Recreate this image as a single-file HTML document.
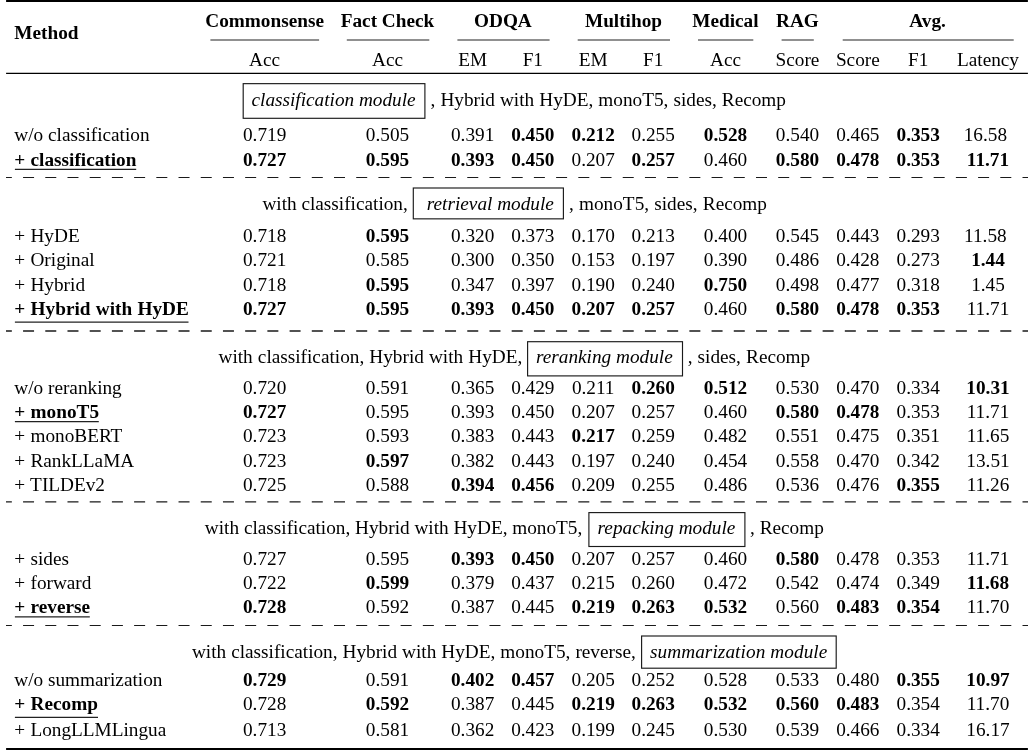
<!DOCTYPE html>
<html><head><meta charset="utf-8"><title>table</title>
<style>
html,body{margin:0;padding:0;background:#fff;}
body{width:1033px;height:750px;position:relative;overflow:hidden;font-family:"Liberation Serif",serif;font-size:19.25px;color:#000;}
.t{position:absolute;white-space:nowrap;line-height:21px;height:21px;}
.c{width:300px;text-align:center;}
.ra{width:600px;text-align:right;}
.b{font-weight:bold;}
.i{font-style:italic;}
svg{position:absolute;left:0;top:0;}
#w{position:absolute;left:0;top:0;width:1033px;height:750px;will-change:transform;}
</style></head><body><div id="w">
<svg width="1033" height="750" viewBox="0 0 1033 750"><defs><clipPath id="clipL"><rect x="6.1" y="0" width="1021.8000000000001" height="750"/></clipPath></defs>
<rect x="6.10" y="0.00" width="1021.80" height="2.00" fill="#000"/>
<rect x="6.10" y="748.00" width="1021.80" height="2.00" fill="#000"/>
<line x1="6.10" y1="73.45" x2="1027.90" y2="73.45" stroke="#000" stroke-width="1.2"/>
<line x1="210.40" y1="40.00" x2="319.10" y2="40.00" stroke="#222" stroke-width="1.2"/>
<line x1="346.80" y1="40.00" x2="429.30" y2="40.00" stroke="#222" stroke-width="1.2"/>
<line x1="457.40" y1="40.00" x2="549.60" y2="40.00" stroke="#222" stroke-width="1.2"/>
<line x1="577.70" y1="40.00" x2="670.00" y2="40.00" stroke="#222" stroke-width="1.2"/>
<line x1="698.00" y1="40.00" x2="753.30" y2="40.00" stroke="#222" stroke-width="1.2"/>
<line x1="781.60" y1="40.00" x2="813.80" y2="40.00" stroke="#222" stroke-width="1.2"/>
<line x1="842.70" y1="40.00" x2="1013.70" y2="40.00" stroke="#222" stroke-width="1.2"/>
<rect x="243.20" y="83.65" width="181.70" height="34.65" fill="none" stroke="#1a1a1a" stroke-width="1.15"/>
<line x1="14.90" y1="169.34" x2="136.20" y2="169.34" stroke="#222" stroke-width="1.2"/>
<line x1="0.85" y1="177.55" x2="1033" y2="177.55" stroke="#1a1a1a" stroke-width="1.1" stroke-dasharray="11.0 11.21" clip-path="url(#clipL)"/>
<rect x="413.30" y="188.00" width="150.10" height="30.85" fill="none" stroke="#1a1a1a" stroke-width="1.15"/>
<line x1="14.90" y1="322.20" x2="188.50" y2="322.20" stroke="#222" stroke-width="1.2"/>
<line x1="0.85" y1="331.00" x2="1033" y2="331.00" stroke="#1a1a1a" stroke-width="1.3" stroke-dasharray="11.0 11.21" clip-path="url(#clipL)"/>
<rect x="527.60" y="341.70" width="154.90" height="34.20" fill="none" stroke="#1a1a1a" stroke-width="1.15"/>
<line x1="14.90" y1="421.56" x2="98.80" y2="421.56" stroke="#222" stroke-width="1.2"/>
<line x1="0.85" y1="501.85" x2="1033" y2="501.85" stroke="#1a1a1a" stroke-width="1.2" stroke-dasharray="11.0 11.21" clip-path="url(#clipL)"/>
<rect x="588.90" y="512.60" width="156.00" height="33.90" fill="none" stroke="#1a1a1a" stroke-width="1.15"/>
<line x1="14.90" y1="616.94" x2="89.80" y2="616.94" stroke="#222" stroke-width="1.2"/>
<line x1="0.85" y1="625.47" x2="1033" y2="625.47" stroke="#1a1a1a" stroke-width="1.1" stroke-dasharray="11.0 11.21" clip-path="url(#clipL)"/>
<rect x="641.60" y="636.00" width="194.60" height="32.20" fill="none" stroke="#1a1a1a" stroke-width="1.15"/>
<line x1="14.90" y1="717.38" x2="98.00" y2="717.38" stroke="#222" stroke-width="1.2"/>
</svg>
<div class="t b" style="left:14.30px;top:22px">Method</div>
<div class="t c b" style="left:114.60px;top:10px">Commonsense</div>
<div class="t c b" style="left:237.50px;top:10px">Fact Check</div>
<div class="t c b" style="left:352.90px;top:10px">ODQA</div>
<div class="t c b" style="left:473.50px;top:10px">Multihop</div>
<div class="t c b" style="left:575.40px;top:10px">Medical</div>
<div class="t c b" style="left:647.40px;top:10px">RAG</div>
<div class="t c b" style="left:777.60px;top:10px">Avg.</div>
<div class="t c " style="left:114.60px;top:49px">Acc</div>
<div class="t c " style="left:237.50px;top:49px">Acc</div>
<div class="t c " style="left:322.60px;top:49px">EM</div>
<div class="t c " style="left:382.80px;top:49px">F1</div>
<div class="t c " style="left:443.20px;top:49px">EM</div>
<div class="t c " style="left:503.20px;top:49px">F1</div>
<div class="t c " style="left:575.50px;top:49px">Acc</div>
<div class="t c " style="left:647.50px;top:49px">Score</div>
<div class="t c " style="left:707.80px;top:49px">Score</div>
<div class="t c " style="left:768.20px;top:49px">F1</div>
<div class="t c " style="left:838.00px;top:49px">Latency</div>
<div class="t i" style="left:251.50px;top:89px">classification module</div>
<div class="t " style="left:430.50px;top:89px"><span style="word-spacing:0.25px">, Hybrid with HyDE, monoT5, sides, Recomp</span></div>
<div class="t " style="left:14.30px;top:124px">w/o classification</div>
<div class="t c " style="left:114.60px;top:124px">0.719</div>
<div class="t c " style="left:237.50px;top:124px">0.505</div>
<div class="t c " style="left:322.60px;top:124px">0.391</div>
<div class="t c b" style="left:382.80px;top:124px">0.450</div>
<div class="t c b" style="left:443.20px;top:124px">0.212</div>
<div class="t c " style="left:503.20px;top:124px">0.255</div>
<div class="t c b" style="left:575.50px;top:124px">0.528</div>
<div class="t c " style="left:647.50px;top:124px">0.540</div>
<div class="t c " style="left:707.80px;top:124px">0.465</div>
<div class="t c b" style="left:768.20px;top:124px">0.353</div>
<div class="t c " style="left:835.40px;top:124px">16.58</div>
<div class="t b" style="left:14.30px;top:149px"><span style="word-spacing:0.5px">+ classification</span></div>
<div class="t c b" style="left:114.60px;top:149px">0.727</div>
<div class="t c b" style="left:237.50px;top:149px">0.595</div>
<div class="t c b" style="left:322.60px;top:149px">0.393</div>
<div class="t c b" style="left:382.80px;top:149px">0.450</div>
<div class="t c " style="left:443.20px;top:149px">0.207</div>
<div class="t c b" style="left:503.20px;top:149px">0.257</div>
<div class="t c " style="left:575.50px;top:149px">0.460</div>
<div class="t c b" style="left:647.50px;top:149px">0.580</div>
<div class="t c b" style="left:707.80px;top:149px">0.478</div>
<div class="t c b" style="left:768.20px;top:149px">0.353</div>
<div class="t c b" style="left:838.00px;top:149px">11.71</div>
<div class="t ra " style="left:-192.20px;top:193px">with classification,</div>
<div class="t i" style="left:426.80px;top:193px">retrieval module</div>
<div class="t " style="left:569.00px;top:193px"><span style="word-spacing:0.4px">, monoT5, sides, Recomp</span></div>
<div class="t " style="left:14.30px;top:225px"><span style="word-spacing:0.5px">+ HyDE</span></div>
<div class="t c " style="left:114.60px;top:225px">0.718</div>
<div class="t c b" style="left:237.50px;top:225px">0.595</div>
<div class="t c " style="left:322.60px;top:225px">0.320</div>
<div class="t c " style="left:382.80px;top:225px">0.373</div>
<div class="t c " style="left:443.20px;top:225px">0.170</div>
<div class="t c " style="left:503.20px;top:225px">0.213</div>
<div class="t c " style="left:575.50px;top:225px">0.400</div>
<div class="t c " style="left:647.50px;top:225px">0.545</div>
<div class="t c " style="left:707.80px;top:225px">0.443</div>
<div class="t c " style="left:768.20px;top:225px">0.293</div>
<div class="t c " style="left:835.40px;top:225px">11.58</div>
<div class="t " style="left:14.30px;top:249px"><span style="word-spacing:0.5px">+ Original</span></div>
<div class="t c " style="left:114.60px;top:249px">0.721</div>
<div class="t c " style="left:237.50px;top:249px">0.585</div>
<div class="t c " style="left:322.60px;top:249px">0.300</div>
<div class="t c " style="left:382.80px;top:249px">0.350</div>
<div class="t c " style="left:443.20px;top:249px">0.153</div>
<div class="t c " style="left:503.20px;top:249px">0.197</div>
<div class="t c " style="left:575.50px;top:249px">0.390</div>
<div class="t c " style="left:647.50px;top:249px">0.486</div>
<div class="t c " style="left:707.80px;top:249px">0.428</div>
<div class="t c " style="left:768.20px;top:249px">0.273</div>
<div class="t c b" style="left:838.00px;top:249px">1.44</div>
<div class="t " style="left:14.30px;top:274px"><span style="word-spacing:0.5px">+ Hybrid</span></div>
<div class="t c " style="left:114.60px;top:274px">0.718</div>
<div class="t c b" style="left:237.50px;top:274px">0.595</div>
<div class="t c " style="left:322.60px;top:274px">0.347</div>
<div class="t c " style="left:382.80px;top:274px">0.397</div>
<div class="t c " style="left:443.20px;top:274px">0.190</div>
<div class="t c " style="left:503.20px;top:274px">0.240</div>
<div class="t c b" style="left:575.50px;top:274px">0.750</div>
<div class="t c " style="left:647.50px;top:274px">0.498</div>
<div class="t c " style="left:707.80px;top:274px">0.477</div>
<div class="t c " style="left:768.20px;top:274px">0.318</div>
<div class="t c " style="left:838.00px;top:274px">1.45</div>
<div class="t b" style="left:14.30px;top:298px"><span style="word-spacing:0.5px">+ Hybrid with HyDE</span></div>
<div class="t c b" style="left:114.60px;top:298px">0.727</div>
<div class="t c b" style="left:237.50px;top:298px">0.595</div>
<div class="t c b" style="left:322.60px;top:298px">0.393</div>
<div class="t c b" style="left:382.80px;top:298px">0.450</div>
<div class="t c b" style="left:443.20px;top:298px">0.207</div>
<div class="t c b" style="left:503.20px;top:298px">0.257</div>
<div class="t c " style="left:575.50px;top:298px">0.460</div>
<div class="t c b" style="left:647.50px;top:298px">0.580</div>
<div class="t c b" style="left:707.80px;top:298px">0.478</div>
<div class="t c b" style="left:768.20px;top:298px">0.353</div>
<div class="t c " style="left:838.00px;top:298px">11.71</div>
<div class="t ra " style="left:-77.70px;top:346px"><span style="word-spacing:0.3px">with classification, Hybrid with HyDE,</span></div>
<div class="t i" style="left:536.00px;top:346px">reranking module</div>
<div class="t " style="left:687.70px;top:346px"><span style="word-spacing:0.3px">, sides, Recomp</span></div>
<div class="t " style="left:14.30px;top:377px">w/o reranking</div>
<div class="t c " style="left:114.60px;top:377px">0.720</div>
<div class="t c " style="left:237.50px;top:377px">0.591</div>
<div class="t c " style="left:322.60px;top:377px">0.365</div>
<div class="t c " style="left:382.80px;top:377px">0.429</div>
<div class="t c " style="left:443.20px;top:377px">0.211</div>
<div class="t c b" style="left:503.20px;top:377px">0.260</div>
<div class="t c b" style="left:575.50px;top:377px">0.512</div>
<div class="t c " style="left:647.50px;top:377px">0.530</div>
<div class="t c " style="left:707.80px;top:377px">0.470</div>
<div class="t c " style="left:768.20px;top:377px">0.334</div>
<div class="t c b" style="left:838.00px;top:377px">10.31</div>
<div class="t b" style="left:14.30px;top:401px"><span style="word-spacing:0.5px">+ monoT5</span></div>
<div class="t c b" style="left:114.60px;top:401px">0.727</div>
<div class="t c " style="left:237.50px;top:401px">0.595</div>
<div class="t c " style="left:322.60px;top:401px">0.393</div>
<div class="t c " style="left:382.80px;top:401px">0.450</div>
<div class="t c " style="left:443.20px;top:401px">0.207</div>
<div class="t c " style="left:503.20px;top:401px">0.257</div>
<div class="t c " style="left:575.50px;top:401px">0.460</div>
<div class="t c b" style="left:647.50px;top:401px">0.580</div>
<div class="t c b" style="left:707.80px;top:401px">0.478</div>
<div class="t c " style="left:768.20px;top:401px">0.353</div>
<div class="t c " style="left:838.00px;top:401px">11.71</div>
<div class="t " style="left:14.30px;top:425px"><span style="word-spacing:0.5px">+ monoBERT</span></div>
<div class="t c " style="left:114.60px;top:425px">0.723</div>
<div class="t c " style="left:237.50px;top:425px">0.593</div>
<div class="t c " style="left:322.60px;top:425px">0.383</div>
<div class="t c " style="left:382.80px;top:425px">0.443</div>
<div class="t c b" style="left:443.20px;top:425px">0.217</div>
<div class="t c " style="left:503.20px;top:425px">0.259</div>
<div class="t c " style="left:575.50px;top:425px">0.482</div>
<div class="t c " style="left:647.50px;top:425px">0.551</div>
<div class="t c " style="left:707.80px;top:425px">0.475</div>
<div class="t c " style="left:768.20px;top:425px">0.351</div>
<div class="t c " style="left:838.00px;top:425px">11.65</div>
<div class="t " style="left:14.30px;top:450px"><span style="word-spacing:0.5px">+ RankLLaMA</span></div>
<div class="t c " style="left:114.60px;top:450px">0.723</div>
<div class="t c b" style="left:237.50px;top:450px">0.597</div>
<div class="t c " style="left:322.60px;top:450px">0.382</div>
<div class="t c " style="left:382.80px;top:450px">0.443</div>
<div class="t c " style="left:443.20px;top:450px">0.197</div>
<div class="t c " style="left:503.20px;top:450px">0.240</div>
<div class="t c " style="left:575.50px;top:450px">0.454</div>
<div class="t c " style="left:647.50px;top:450px">0.558</div>
<div class="t c " style="left:707.80px;top:450px">0.470</div>
<div class="t c " style="left:768.20px;top:450px">0.342</div>
<div class="t c " style="left:838.00px;top:450px">13.51</div>
<div class="t " style="left:14.30px;top:474px"><span style="word-spacing:0.5px">+ TILDEv2</span></div>
<div class="t c " style="left:114.60px;top:474px">0.725</div>
<div class="t c " style="left:237.50px;top:474px">0.588</div>
<div class="t c b" style="left:322.60px;top:474px">0.394</div>
<div class="t c b" style="left:382.80px;top:474px">0.456</div>
<div class="t c " style="left:443.20px;top:474px">0.209</div>
<div class="t c " style="left:503.20px;top:474px">0.255</div>
<div class="t c " style="left:575.50px;top:474px">0.486</div>
<div class="t c " style="left:647.50px;top:474px">0.536</div>
<div class="t c " style="left:707.80px;top:474px">0.476</div>
<div class="t c b" style="left:768.20px;top:474px">0.355</div>
<div class="t c " style="left:838.00px;top:474px">11.26</div>
<div class="t ra " style="left:-17.70px;top:517px">with classification, Hybrid with HyDE, monoT5,</div>
<div class="t i" style="left:597.60px;top:517px">repacking module</div>
<div class="t " style="left:750.00px;top:517px">, Recomp</div>
<div class="t " style="left:14.30px;top:548px"><span style="word-spacing:0.5px">+ sides</span></div>
<div class="t c " style="left:114.60px;top:548px">0.727</div>
<div class="t c " style="left:237.50px;top:548px">0.595</div>
<div class="t c b" style="left:322.60px;top:548px">0.393</div>
<div class="t c b" style="left:382.80px;top:548px">0.450</div>
<div class="t c " style="left:443.20px;top:548px">0.207</div>
<div class="t c " style="left:503.20px;top:548px">0.257</div>
<div class="t c " style="left:575.50px;top:548px">0.460</div>
<div class="t c b" style="left:647.50px;top:548px">0.580</div>
<div class="t c " style="left:707.80px;top:548px">0.478</div>
<div class="t c " style="left:768.20px;top:548px">0.353</div>
<div class="t c " style="left:838.00px;top:548px">11.71</div>
<div class="t " style="left:14.30px;top:572px"><span style="word-spacing:0.5px">+ forward</span></div>
<div class="t c " style="left:114.60px;top:572px">0.722</div>
<div class="t c b" style="left:237.50px;top:572px">0.599</div>
<div class="t c " style="left:322.60px;top:572px">0.379</div>
<div class="t c " style="left:382.80px;top:572px">0.437</div>
<div class="t c " style="left:443.20px;top:572px">0.215</div>
<div class="t c " style="left:503.20px;top:572px">0.260</div>
<div class="t c " style="left:575.50px;top:572px">0.472</div>
<div class="t c " style="left:647.50px;top:572px">0.542</div>
<div class="t c " style="left:707.80px;top:572px">0.474</div>
<div class="t c " style="left:768.20px;top:572px">0.349</div>
<div class="t c b" style="left:838.00px;top:572px">11.68</div>
<div class="t b" style="left:14.30px;top:596px"><span style="word-spacing:0.5px">+ reverse</span></div>
<div class="t c b" style="left:114.60px;top:596px">0.728</div>
<div class="t c " style="left:237.50px;top:596px">0.592</div>
<div class="t c " style="left:322.60px;top:596px">0.387</div>
<div class="t c " style="left:382.80px;top:596px">0.445</div>
<div class="t c b" style="left:443.20px;top:596px">0.219</div>
<div class="t c b" style="left:503.20px;top:596px">0.263</div>
<div class="t c b" style="left:575.50px;top:596px">0.532</div>
<div class="t c " style="left:647.50px;top:596px">0.560</div>
<div class="t c b" style="left:707.80px;top:596px">0.483</div>
<div class="t c b" style="left:768.20px;top:596px">0.354</div>
<div class="t c " style="left:838.00px;top:596px">11.70</div>
<div class="t ra " style="left:35.80px;top:641px"><span style="word-spacing:0.2px">with classification, Hybrid with HyDE, monoT5, reverse,</span></div>
<div class="t i" style="left:649.90px;top:641px"><span style="letter-spacing:0.08px">summarization module</span></div>
<div class="t " style="left:14.30px;top:669px">w/o summarization</div>
<div class="t c b" style="left:114.60px;top:669px">0.729</div>
<div class="t c " style="left:237.50px;top:669px">0.591</div>
<div class="t c b" style="left:322.60px;top:669px">0.402</div>
<div class="t c b" style="left:382.80px;top:669px">0.457</div>
<div class="t c " style="left:443.20px;top:669px">0.205</div>
<div class="t c " style="left:503.20px;top:669px">0.252</div>
<div class="t c " style="left:575.50px;top:669px">0.528</div>
<div class="t c " style="left:647.50px;top:669px">0.533</div>
<div class="t c " style="left:707.80px;top:669px">0.480</div>
<div class="t c b" style="left:768.20px;top:669px">0.355</div>
<div class="t c b" style="left:838.00px;top:669px">10.97</div>
<div class="t b" style="left:14.30px;top:693px"><span style="word-spacing:0.5px">+ Recomp</span></div>
<div class="t c " style="left:114.60px;top:693px">0.728</div>
<div class="t c b" style="left:237.50px;top:693px">0.592</div>
<div class="t c " style="left:322.60px;top:693px">0.387</div>
<div class="t c " style="left:382.80px;top:693px">0.445</div>
<div class="t c b" style="left:443.20px;top:693px">0.219</div>
<div class="t c b" style="left:503.20px;top:693px">0.263</div>
<div class="t c b" style="left:575.50px;top:693px">0.532</div>
<div class="t c b" style="left:647.50px;top:693px">0.560</div>
<div class="t c b" style="left:707.80px;top:693px">0.483</div>
<div class="t c " style="left:768.20px;top:693px">0.354</div>
<div class="t c " style="left:838.00px;top:693px">11.70</div>
<div class="t " style="left:14.30px;top:719px"><span style="word-spacing:0.5px">+ LongLLMLingua</span></div>
<div class="t c " style="left:114.60px;top:719px">0.713</div>
<div class="t c " style="left:237.50px;top:719px">0.581</div>
<div class="t c " style="left:322.60px;top:719px">0.362</div>
<div class="t c " style="left:382.80px;top:719px">0.423</div>
<div class="t c " style="left:443.20px;top:719px">0.199</div>
<div class="t c " style="left:503.20px;top:719px">0.245</div>
<div class="t c " style="left:575.50px;top:719px">0.530</div>
<div class="t c " style="left:647.50px;top:719px">0.539</div>
<div class="t c " style="left:707.80px;top:719px">0.466</div>
<div class="t c " style="left:768.20px;top:719px">0.334</div>
<div class="t c " style="left:838.00px;top:719px">16.17</div>
</div></body></html>
